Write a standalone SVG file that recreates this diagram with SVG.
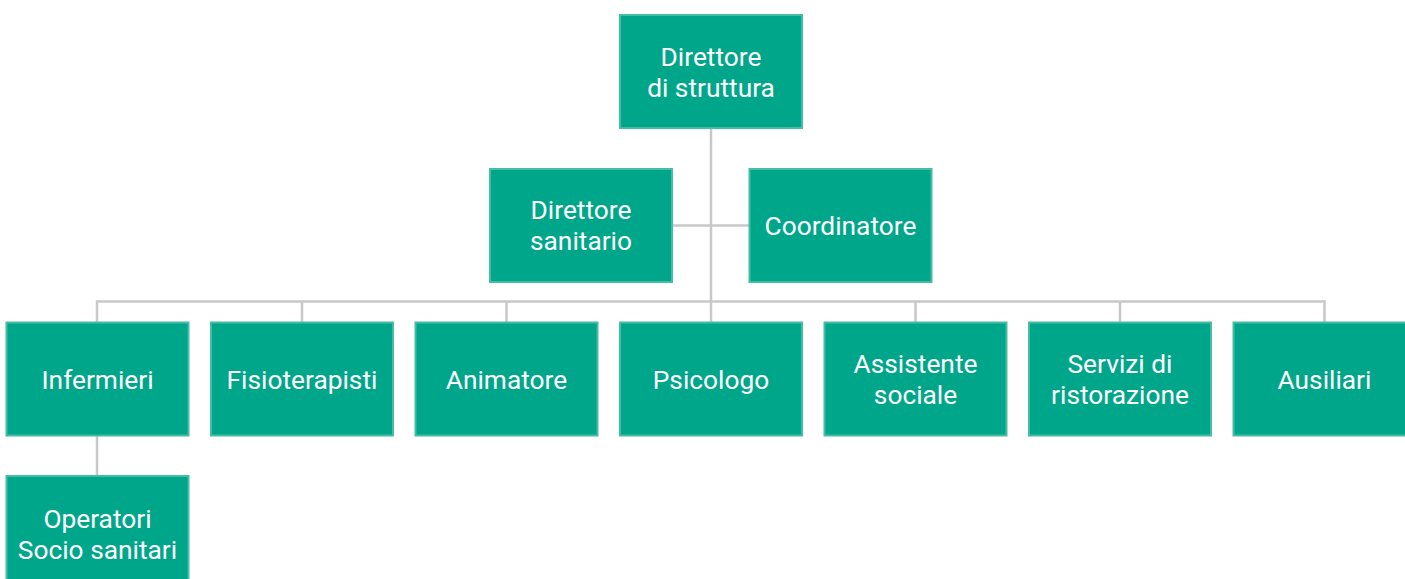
<svg xmlns="http://www.w3.org/2000/svg" width="1405" height="579" viewBox="0 0 1405 579">
<style>
.box{fill:#00a68a;stroke:#45bda2;stroke-width:2}
.t{font-family:Roboto,"Liberation Sans",sans-serif;font-size:26.3px;fill:#ffffff;text-anchor:middle}
.c{fill:none;stroke:#c8c8c8;stroke-width:2.5}
</style>
<rect width="1405" height="579" fill="#ffffff"/>
<g id="connectors">
<path class="c" d="M711 128V322"/>
<path class="c" d="M672 225.5H749"/>
<path class="c" d="M97 322V301.5H1324.5V322"/>
<path class="c" d="M302 301.5V322M506.5 301.5V322M915.5 301.5V322M1120 301.5V322"/>
<path class="c" d="M97 435V476"/>
</g>
<g id="n-direttore-struttura"><rect class="box" x="620" y="15" width="182" height="113"/><text class="t" x="711" y="65.5">Direttore</text><text class="t" x="711" y="96.5">di struttura</text></g>
<g id="n-direttore-sanitario"><rect class="box" x="490" y="169" width="182" height="113"/><text class="t" x="581" y="218.5">Direttore</text><text class="t" x="581" y="249.5">sanitario</text></g>
<g id="n-coordinatore"><rect class="box" x="749.5" y="169" width="182" height="113"/><text class="t" x="840.5" y="234.5">Coordinatore</text></g>
<g id="n-infermieri"><rect class="box" x="6.5" y="322.5" width="182" height="113"/><text class="t" x="97.5" y="388.5">Infermieri</text></g>
<g id="n-fisioterapisti"><rect class="box" x="211" y="322.5" width="182" height="113"/><text class="t" x="302" y="388.5">Fisioterapisti</text></g>
<g id="n-animatore"><rect class="box" x="415.5" y="322.5" width="182" height="113"/><text class="t" x="506.5" y="388.5">Animatore</text></g>
<g id="n-psicologo"><rect class="box" x="620" y="322.5" width="182" height="113"/><text class="t" x="711" y="388.5">Psicologo</text></g>
<g id="n-assistente-sociale"><rect class="box" x="824.5" y="322.5" width="182" height="113"/><text class="t" x="915.5" y="372.5">Assistente</text><text class="t" x="915.5" y="403.5">sociale</text></g>
<g id="n-servizi-ristorazione"><rect class="box" x="1029" y="322.5" width="182" height="113"/><text class="t" x="1120" y="372.5">Servizi di</text><text class="t" x="1120" y="403.5">ristorazione</text></g>
<g id="n-ausiliari"><rect class="box" x="1233.5" y="322.5" width="182" height="113"/><text class="t" x="1324.5" y="388.5">Ausiliari</text></g>
<g id="n-operatori"><rect class="box" x="6.5" y="476" width="182" height="113"/><text class="t" x="97.5" y="527.5">Operatori</text><text class="t" x="97.5" y="558.5">Socio sanitari</text></g>
</svg>
